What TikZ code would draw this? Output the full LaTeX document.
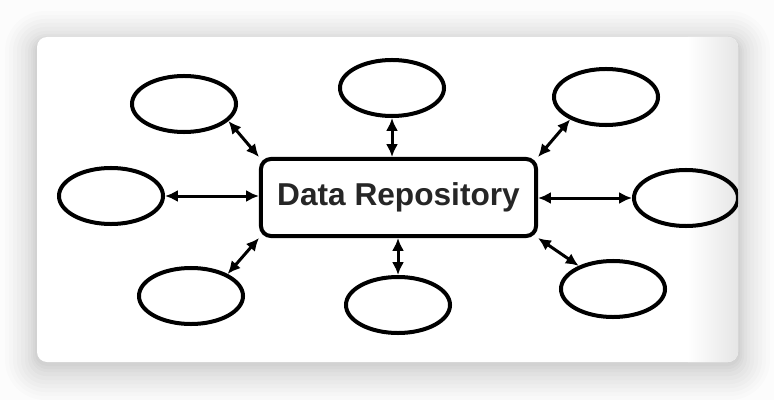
\documentclass[tikz,border=0pt]{standalone}
\usepackage{fontspec}
\setmainfont{Liberation Sans}
\usetikzlibrary{arrows.meta, positioning, shapes.geometric}

\tikzset{
  store/.style={ellipse, draw, line width=0.1cm, minimum width=2.6cm, minimum height=1.4cm, inner sep=0pt},
  repobox/.style={draw, line width=0.1cm, rounded corners=0.25cm, minimum width=6.875cm, minimum height=1.925cm, inner sep=0pt, font=\bfseries\fontsize{22.5}{27}\selectfont, text=black!85},
  link/.style={{Latex[length=0.32cm,width=0.3cm]}-{Latex[length=0.32cm,width=0.3cm]}, line width=0.075cm},
}

\begin{document}
\begin{tikzpicture}[x=0.025cm, y=-0.025cm]
\useasboundingbox (0,0) rectangle (774,400);
% page and card shadow
\fill [black!1] (0,0) rectangle (774,400);
\fill [black, opacity=0.012, rounded corners=1cm] (5,11) rectangle (770,400);
\fill [black, opacity=0.012, rounded corners=0.9cm] (9,15) rectangle (766,396);
\fill [black, opacity=0.014, rounded corners=0.8cm] (13,19) rectangle (762,392);
\fill [black, opacity=0.014, rounded corners=0.7cm] (17,23) rectangle (758,388);
\fill [black, opacity=0.016, rounded corners=0.6cm] (21,27) rectangle (754,384);
\fill [black, opacity=0.016, rounded corners=0.5cm] (25,31) rectangle (750,380);
\fill [black, opacity=0.018, rounded corners=0.45cm] (28,34) rectangle (747,376);
\fill [black, opacity=0.018, rounded corners=0.4cm] (31,36) rectangle (744,372);
\fill [black, opacity=0.02, rounded corners=0.35cm] (33,38) rectangle (742,369);
\fill [black, opacity=0.02, rounded corners=0.3cm] (35,39) rectangle (740,366);
\fill [white, rounded corners=0.25cm] (37,37) rectangle (738,362);
\begin{scope}
\clip [rounded corners=0.25cm] (37,37) rectangle (738,362);
\shade [left color=white, right color=black!10] (688,37) rectangle (738,362);
% repository and stores
\node [repobox] (repo) at (398.5,197.5) {Data Repository};
\node [store] (nw) at (184,104) {};
\node [store] (n) at (392,88) {};
\node [store] (ne) at (606,97) {};
\node [store] (w) at (111,196) {};
\node [store] (e) at (686,198) {};
\node [store] (sw) at (191,296) {};
\node [store] (s) at (398,305) {};
\node [store] (se) at (613,289) {};
% links
\draw [link] (nw.-21) -- (repo.north west);
\draw [link] (n.south) -- (n.south |- repo.north);
\draw [link] (ne.-148) -- (repo.north east);
\draw [link] (w.east) -- (w.east -| repo.west);
\draw [link] (e.west) -- (e.west -| repo.east);
\draw [link] (sw.31) -- (repo.south west);
\draw [link] (s.north) -- (s.north |- repo.south);
\draw [link] (se.146) -- (repo.south east);
\end{scope}
\end{tikzpicture}
\end{document}
